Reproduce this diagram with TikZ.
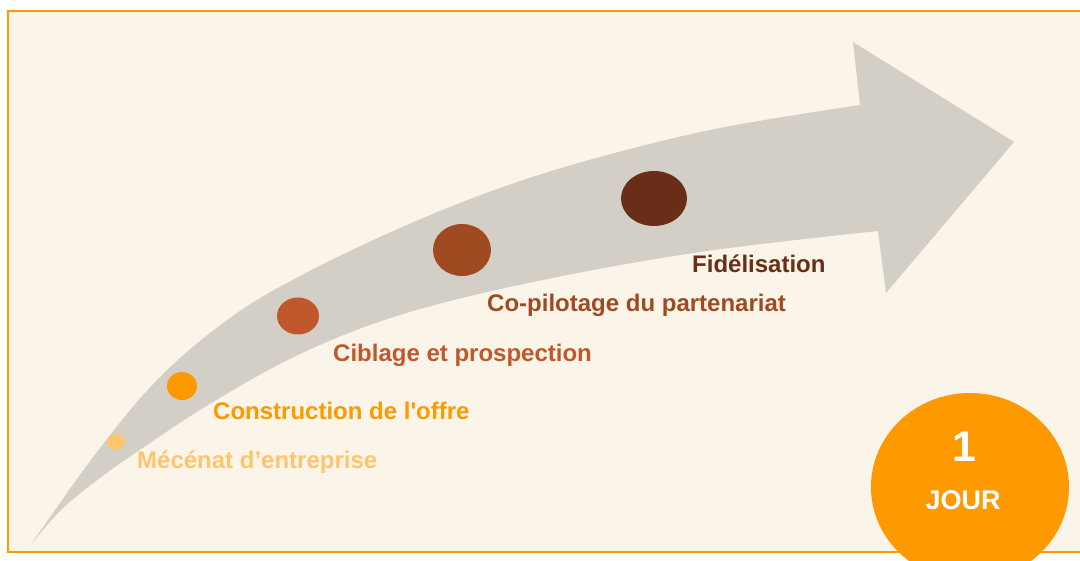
\documentclass[tikz,border=0pt]{standalone}
\usepackage{fontspec}
\setmainfont{Liberation Sans}[Ligatures=TeXOff]
\usetikzlibrary{shapes.geometric}
\definecolor{bgcream}{HTML}{FBF4E8}
\definecolor{borderorange}{HTML}{FF9900}
\definecolor{arrowgray}{HTML}{D3CFC7}
\definecolor{cLight}{HTML}{FFC56E}
\definecolor{cOrange}{HTML}{FF9900}
\definecolor{cRust}{HTML}{C0582C}
\definecolor{cBrown}{HTML}{A04A22}
\definecolor{cDark}{HTML}{682E17}
\tikzset{
  dot/.style={ellipse, inner sep=0pt, draw=none},
  lbl/.style={anchor=base west, inner sep=0pt, font=\fontsize{24}{26}\selectfont\bfseries},
}
\begin{document}
\begin{tikzpicture}[x=1pt,y=-1pt]
\useasboundingbox (0,0) rectangle (1080,561);
\clip (0,0) rectangle (1080,561);
\fill[white] (0,0) rectangle (1080,561);
\draw[borderorange, line width=2pt, fill=bgcream] (8,11.5) rectangle (1095,552);
% curved arrow
\fill[arrowgray] plot[smooth, tension=0.6] coordinates {(30,546) (97,452) (160,377) (230,318) (300,276) (400,228) (500,188) (600,157) (720,128) (860,105)}
  -- (853,42) -- (1014,142) -- (886,293) -- (878,231)
  -- plot[smooth, tension=0.6] coordinates {(878,231) (700,252) (533,282) (400,315) (300,354) (213,402) (150,443) (100,478) (60,511) (30,546)} -- cycle;
% dots
\node[dot, fill=cLight, minimum width=18pt, minimum height=16pt] (d1) at (116,442) {};
\node[dot, fill=cOrange, minimum width=30pt, minimum height=28pt] (d2) at (182,386) {};
\node[dot, fill=cRust, minimum width=42pt, minimum height=37pt] (d3) at (298,316) {};
\node[dot, fill=cBrown, minimum width=58pt, minimum height=52pt] (d4) at (462,250) {};
\node[dot, fill=cDark, minimum width=66pt, minimum height=55pt] (d5) at (654,198.5) {};
% labels
\node[lbl, text=cLight] (t1) at (137,468) {Mécénat d’entreprise};
\node[lbl, text=cOrange] (t2) at (213,420) {Construction de l'offre};
\node[lbl, text=cRust] (t3) at (333,362) {Ciblage et prospection};
\node[lbl, text=cBrown] (t4) at (487,312) {Co-pilotage du partenariat};
\node[lbl, text=cDark] (t5) at (692,273) {Fidélisation};
% badge
\node[dot, fill=borderorange, minimum width=198pt, minimum height=188pt] (badge) at (970,487) {};
\node[anchor=base, inner sep=0pt, text=white, font=\fontsize{43}{46}\selectfont\bfseries] (one) at (964,461) {1};
\node[anchor=base, inner sep=0pt, text=white, font=\fontsize{27}{30}\selectfont\bfseries] (jour) at (963,509) {JOUR};
\end{tikzpicture}
\end{document}
